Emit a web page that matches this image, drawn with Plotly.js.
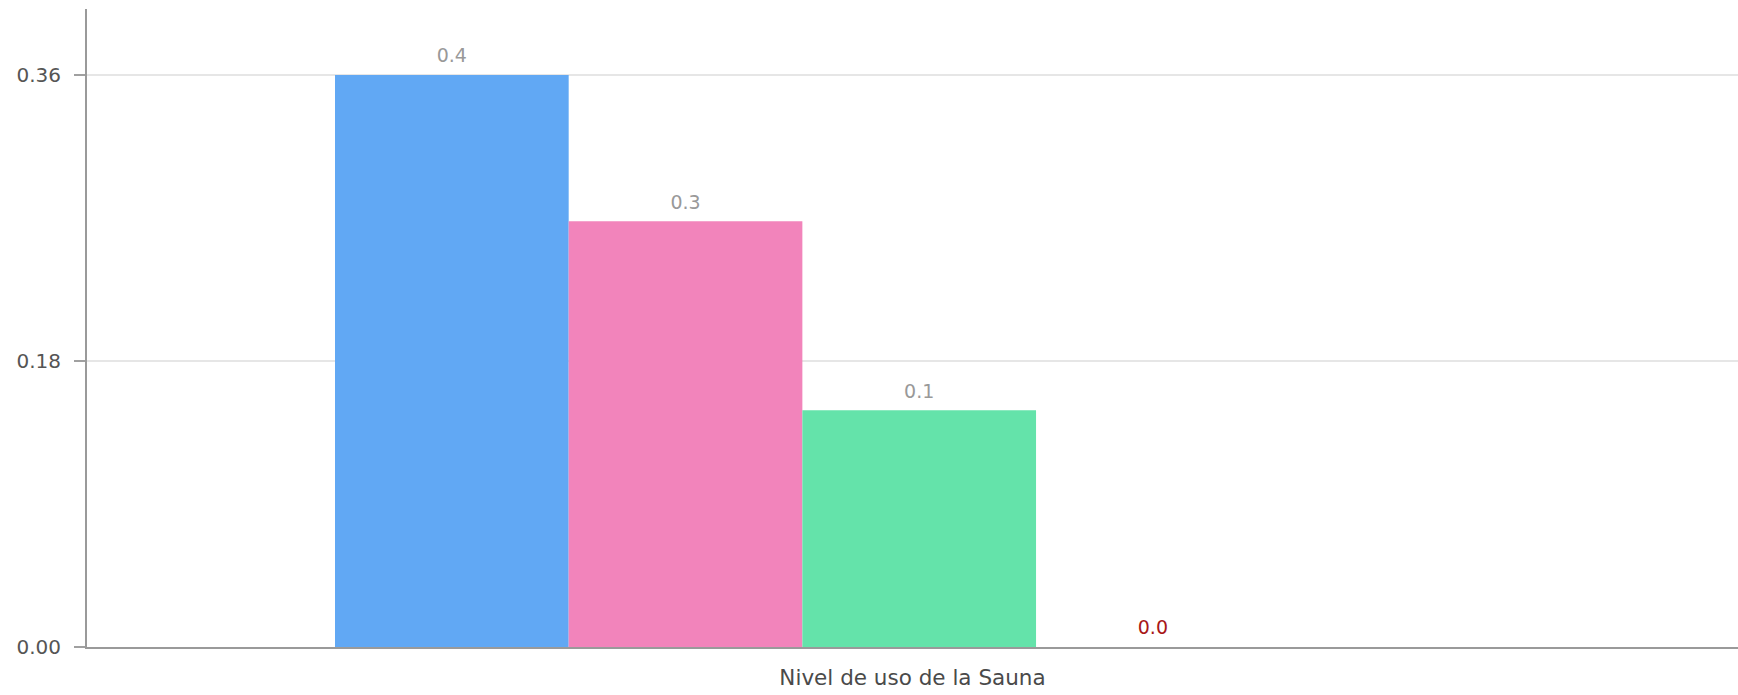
<!DOCTYPE html>
<html>
<head>
<meta charset="utf-8">
<script src="https://cdn.plot.ly/plotly-3.0.1.min.js"></script>
<style>
  html, body { margin: 0; padding: 0; background: #fff; }
  #chart { width: 1738px; height: 695px; }
</style>
</head>
<body>
<div id="chart"></div>
<script>
// ---- data ----
const categories = ["Nivel de uso de la Sauna"];
const series1 = [0.36];
const series2 = [0.268];
const series3 = [0.149];
const series4 = [0.0];
const series5 = [null];
const yTickVals = [0, 0.18, 0.36];
const yTickText = ["0.00", "0.18", "0.36"];

const colors = ["#61a8f4", "#f284bb", "#64e3aa", "#b0b0b0", "#b0b0b0"];
const labelColors = ["#999999", "#999999", "#999999", "#a81818", "#999999"];
const allSeries = [series1, series2, series3, series4, series5];

const FONT = "DejaVu Sans, Verdana, sans-serif";
const GAP = 0.2923;

const barTraces = allSeries.map((vals, i) => ({
  type: "bar",
  x: categories,
  y: vals,
  marker: { color: colors[i], line: { width: 0 } },
  hoverinfo: "none",
  showlegend: false
}));

const labelTraces = allSeries.map((vals, i) => ({
  type: "scatter",
  mode: "markers+text",
  x: categories,
  y: vals,
  text: vals.map(v => (v === null ? "" : v.toFixed(1))),
  textposition: "top center",
  textfont: { family: FONT, size: 19, color: labelColors[i] },
  marker: { size: 11, opacity: 0, color: "#ffffff" },
  cliponaxis: false,
  hoverinfo: "none",
  showlegend: false
}));

const layout = {
  width: 1738,
  height: 695,
  margin: { l: 87, r: 0, t: 9, b: 48, pad: 0 },
  paper_bgcolor: "#ffffff",
  plot_bgcolor: "#ffffff",
  barmode: "group",
  bargap: GAP,
  bargroupgap: 0,
  scattermode: "group",
  scattergap: GAP,
  font: { family: FONT, size: 20, color: "#555555" },
  showlegend: false,
  xaxis: {
    type: "category",
    range: [-0.50406, 0.49594],
    showticklabels: false,
    ticks: "",
    showgrid: false,
    zeroline: false,
    showline: true,
    linecolor: "#9a9a9a",
    linewidth: 2,
    automargin: false,
    title: { text: categories[0], font: { family: FONT, size: 21.5, color: "#4a4a4a" }, standoff: 22 }
  },
  yaxis: {
    range: [0, 0.4015],
    tickvals: yTickVals,
    ticktext: yTickText,
    ticks: "outside",
    ticklen: 11,
    tickwidth: 2,
    tickcolor: "#a0a0a0",
    showline: true,
    linecolor: "#9a9a9a",
    linewidth: 2,
    showgrid: true,
    gridcolor: "#e6e6e6",
    gridwidth: 2,
    zeroline: false,
    automargin: false,
    ticklabelstandoff: 9,
    tickfont: { family: FONT, size: 20, color: "#555555" }
  }
};

Plotly.newPlot("chart", barTraces.concat(labelTraces), layout, { displayModeBar: false, staticPlot: true });
</script>
</body>
</html>
